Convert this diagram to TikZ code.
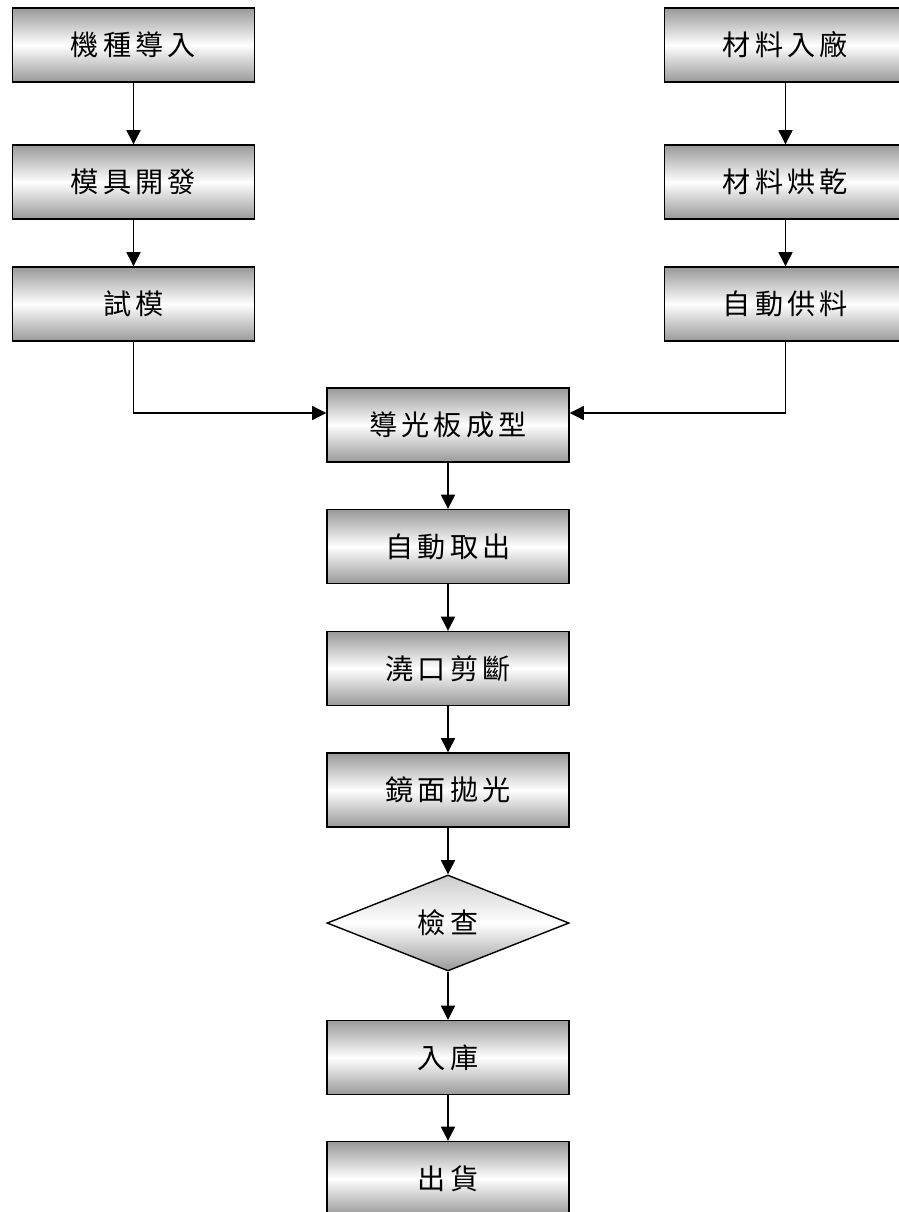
\documentclass[tikz,border=0pt]{standalone}
\usepackage{fontspec}
\newfontfamily\cjk[LetterSpace=15]{Noto Sans CJK TC}
\usetikzlibrary{arrows.meta,shapes.geometric}

\tikzset{
  stepbox/.style={draw, line width=1pt, rectangle, minimum width=6.05cm, minimum height=1.85cm,
    top color=black!40, bottom color=black!40, middle color=white,
    font=\cjk\fontsize{20}{23}\selectfont},
  checkbox/.style={draw, line width=1pt, diamond, shape aspect=2.5, inner sep=1pt,
    minimum width=6.05cm, minimum height=2.4cm,
    top color=black!20, bottom color=black!40, middle color=white,
    font=\cjk\fontsize{20}{23}\selectfont},
  flow/.style={line width=0.9pt, -{Triangle[length=10pt,width=10pt]}}
}

\begin{document}
\begin{tikzpicture}[x=0.025cm,y=-0.025cm]
\useasboundingbox (0,0) rectangle (899,1212);
% left column
\node[stepbox] (jizhong) at (133.5,45) {機種導入};
\node[stepbox] (mojv) at (133.5,182) {模具開發};
\node[stepbox] (shimo) at (133.5,304) {試模};
% right column
\node[stepbox] (ruchang) at (785.5,45) {材料入廠};
\node[stepbox] (honggan) at (785.5,182) {材料烘乾};
\node[stepbox] (gongliao) at (785.5,304) {自動供料};
% middle column
\node[stepbox] (chengxing) at (448,425) {導光板成型};
\node[stepbox] (quchu) at (448,546.5) {自動取出};
\node[stepbox] (jianduan) at (448,668.5) {澆口剪斷};
\node[stepbox] (paoguang) at (448,790) {鏡面拋光};
\node[checkbox] (jiancha) at (448,923) {檢查};
\node[stepbox] (ruku) at (448,1057.5) {入庫};
\node[stepbox] (chuhuo) at (448,1178.5) {出貨};

\draw[flow] (jizhong) -- (mojv);
\draw[flow] (mojv) -- (shimo);
\draw[flow] (ruchang) -- (honggan);
\draw[flow] (honggan) -- (gongliao);
\draw[flow] (shimo.south) |- (chengxing.west |- 0,413);
\draw[flow] (gongliao.south) |- (chengxing.east |- 0,413);
\draw[flow] (chengxing) -- (quchu);
\draw[flow] (quchu) -- (jianduan);
\draw[flow] (jianduan) -- (paoguang);
\draw[flow] (paoguang) -- (jiancha);
\draw[flow] (jiancha) -- (ruku);
\draw[flow] (ruku) -- (chuhuo);
\end{tikzpicture}
\end{document}
